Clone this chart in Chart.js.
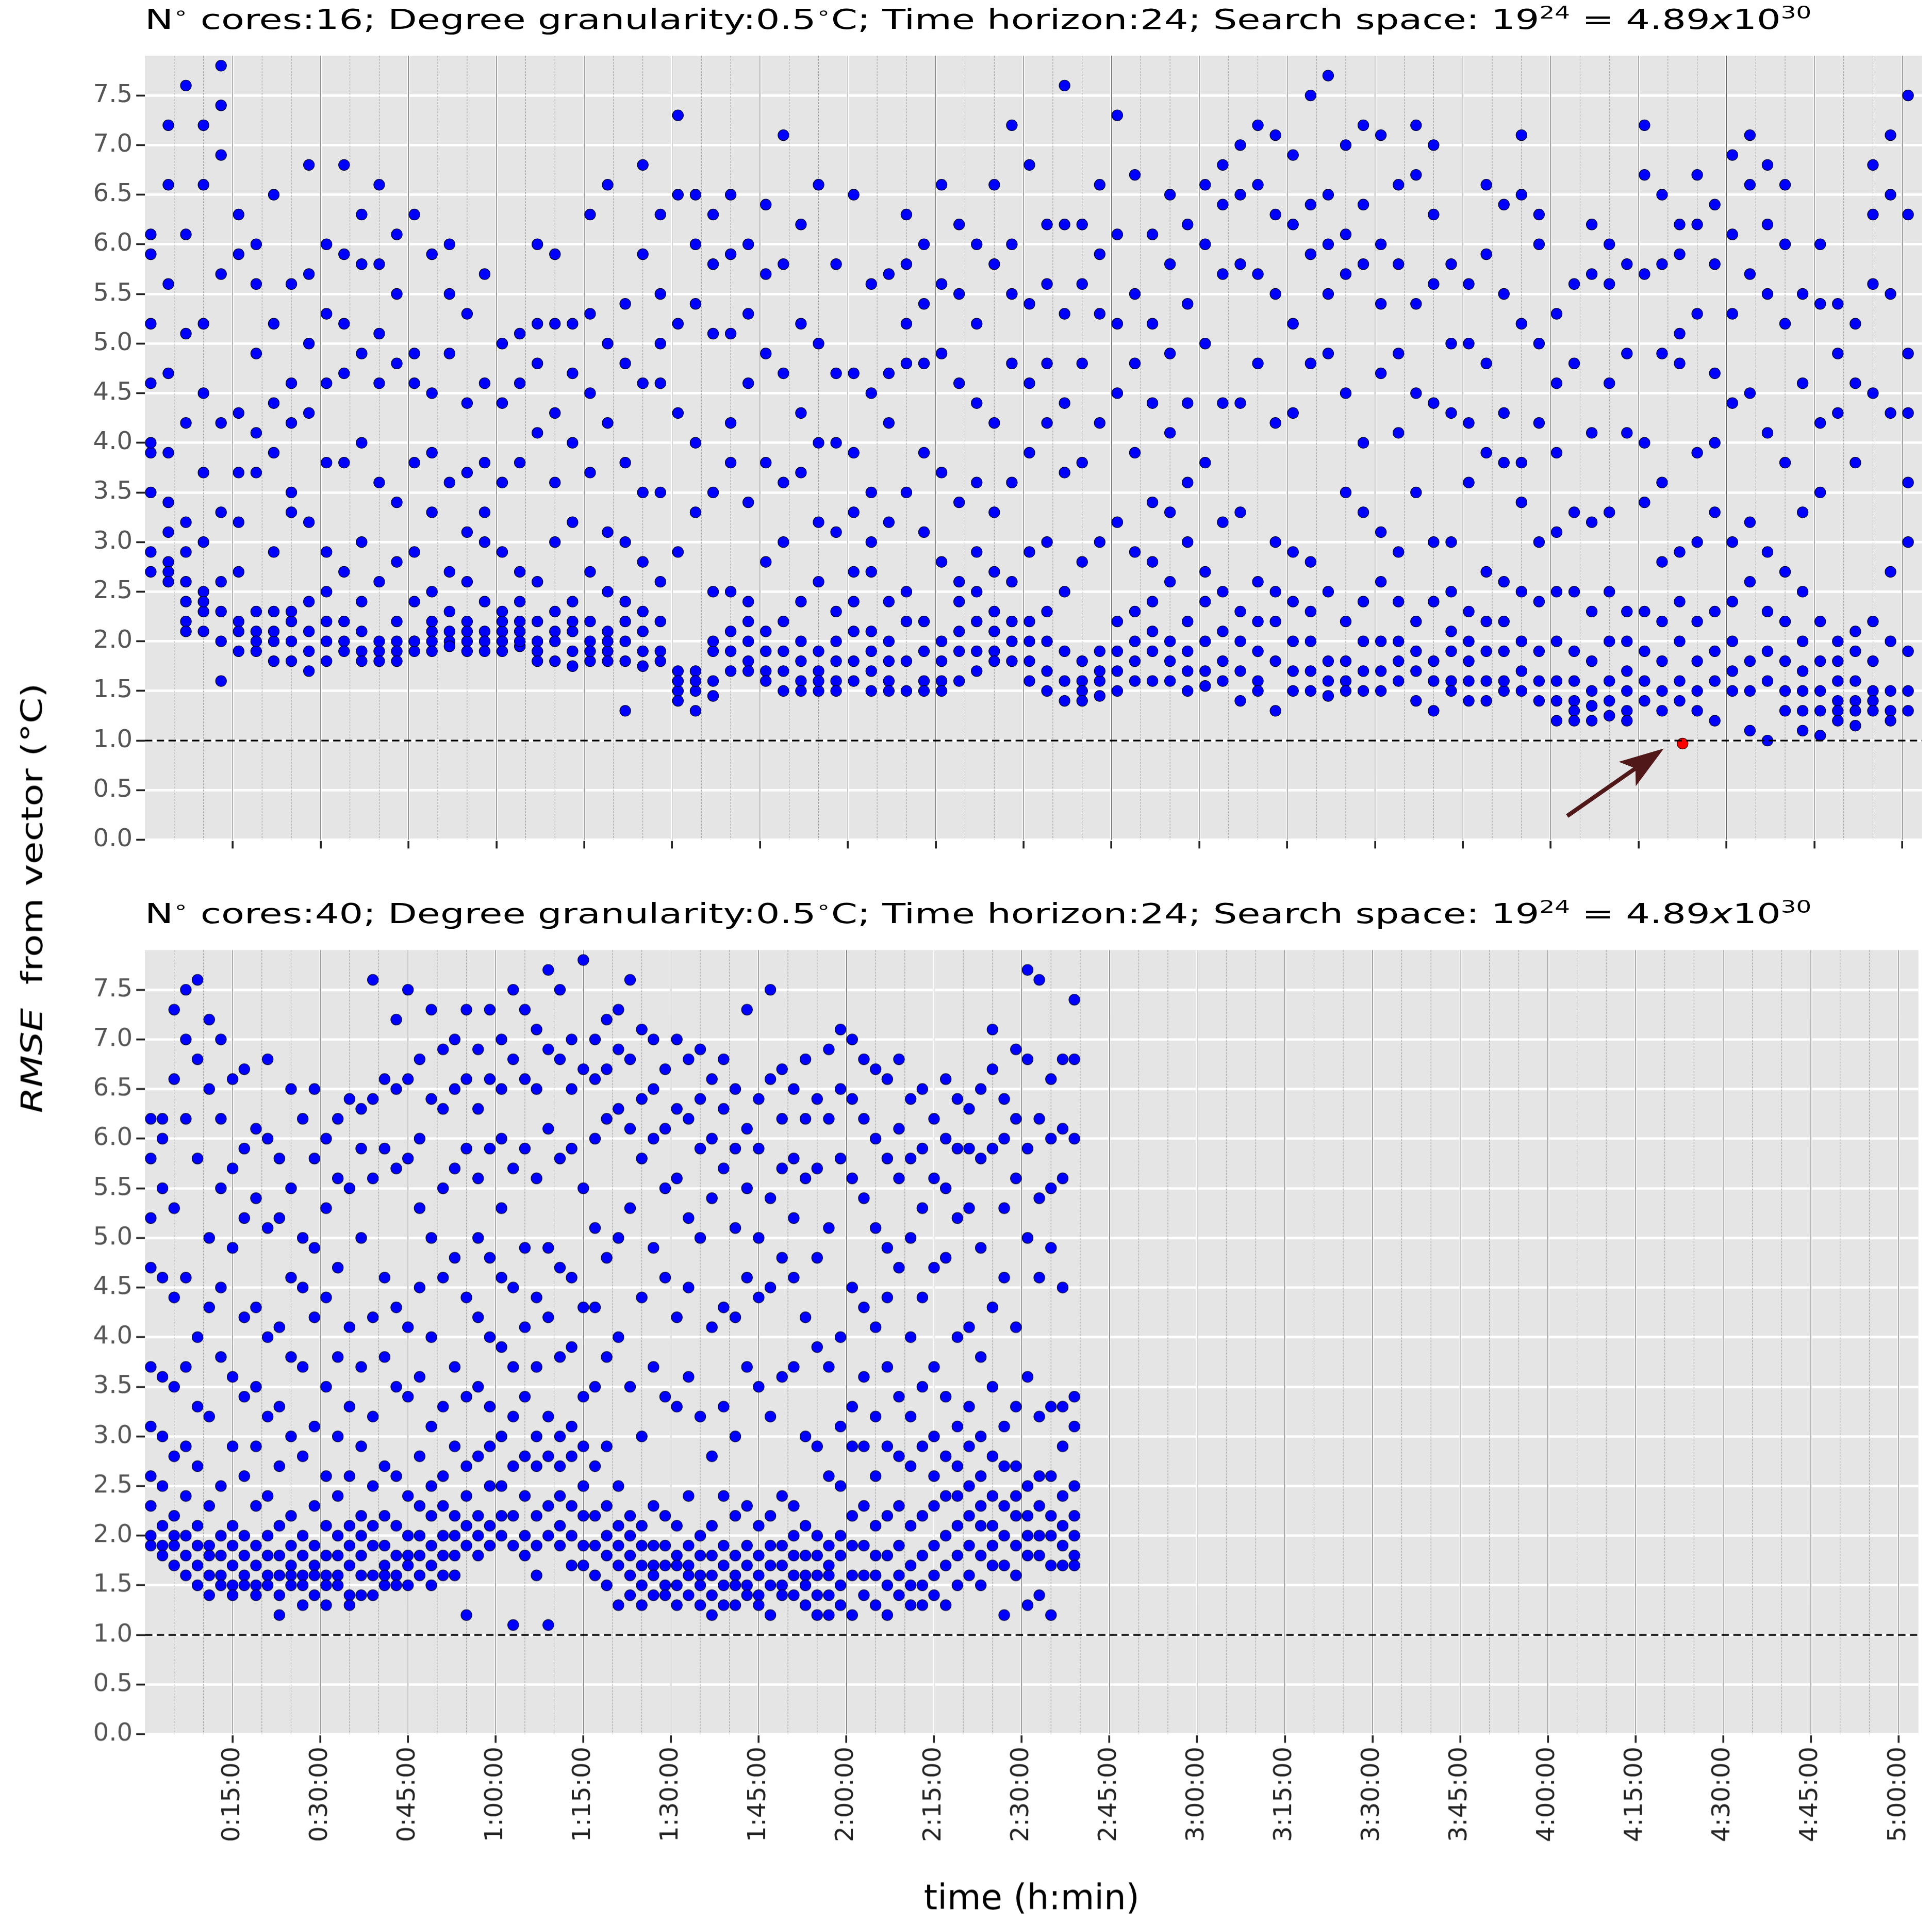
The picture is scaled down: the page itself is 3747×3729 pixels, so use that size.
<!DOCTYPE html>
<html>
<head>
<meta charset="utf-8">
<script src="https://cdn.jsdelivr.net/npm/chart.js@4"></script>
<style>
body{margin:0;background:#fff;}
#wrap{position:absolute;left:0;top:0;width:1560px;height:1553px;transform:scale(2.402);transform-origin:0 0;font-family:"DejaVu Sans",sans-serif;}
canvas{position:absolute;left:0;}
.ttl{position:absolute;left:117px;font-size:22px;color:#000;white-space:nowrap;transform:scaleX(1.39);transform-origin:0 0;}
.ttl sup{font-size:14px;}
#ylab{position:absolute;left:26px;top:725px;font-size:24px;transform:translate(-50%,-50%) rotate(-90deg) scaleX(1.25);white-space:nowrap;}
</style>
</head>
<body>
<div id="wrap">
  <div class="ttl" style="top:2px">N<sup>∘</sup> cores:16; Degree granularity:0.5<sup>∘</sup>C; Time horizon:24; Search space: 19<sup>24</sup> = 4.89<i>x</i>10<sup>30</sup></div>
  <canvas id="top" width="1560" height="700" style="top:0"></canvas>
  <div class="ttl" style="top:724px">N<sup>∘</sup> cores:40; Degree granularity:0.5<sup>∘</sup>C; Time horizon:24; Search space: 19<sup>24</sup> = 4.89<i>x</i>10<sup>30</sup></div>
  <canvas id="bottom" width="1560" height="831" style="top:722px"></canvas>
  <div id="ylab"><i>RMSE</i>&nbsp; from vector (°C)</div>
</div>
<script>
const tickMinutes = [15,30,45,60,75,90,105,120,135,150,165,180,195,210,225,240,255,270,285,300];
const tickLabels = ['0:15:00','0:30:00','0:45:00','1:00:00','1:15:00','1:30:00','1:45:00','2:00:00','2:15:00','2:30:00','2:45:00','3:00:00','3:15:00','3:30:00','3:45:00','4:00:00','4:15:00','4:30:00','4:45:00','5:00:00'];
const yTicks = [0,0.5,1,1.5,2,2.5,3,3.5,4,4.5,5,5.5,6,6.5,7,7.5];
const target = 1.0;

const topTimes = [1,4,7,10,13,16,19,22,25,28,31,34,37,40,43,46,49,52,55,58,61,64,67,70,73,76,79,82,85,88,91,94,97,100,103,106,109,112,115,118,121,124,127,130,133,136,139,142,145,148,151,154,157,160,163,166,169,172,175,178,181,184,187,190,193,196,199,202,205,208,211,214,217,220,223,226,229,232,235,238,241,244,247,250,253,256,259,262,265,268,271,274,277,280,283,286,289,292,295,298,301];
const topValues = [
[5.9,5.2,4.6,3.9,3.5,2.9,2.7,6.1,4.0],[6.6,7.2,5.6,4.7,3.9,3.4,2.8,2.7,2.6,3.1],[6.1,7.6,5.1,4.2,3.2,2.6,2.4,2.2,2.1,2.9],[7.2,6.6,5.2,3.7,2.5,2.3,2.1,2.4,3.0,4.5],
[7.8,6.9,7.4,5.7,4.2,2.6,2.3,1.6,2.0,3.3],[6.3,5.9,3.7,3.2,2.7,2.2,2.1,1.9,4.3],[5.6,4.9,4.1,2.3,2.1,1.9,2.0,3.7,6.0],[6.5,5.2,4.4,3.9,2.3,2.0,1.8,2.1,2.9],
[5.6,4.6,3.3,2.2,2.0,1.8,2.3,3.5,4.2],[6.8,5.7,5.0,4.3,2.4,2.1,1.9,1.7,3.2],[6.0,5.3,4.6,3.8,2.9,2.2,2.0,1.8,2.5],[6.8,5.9,5.2,4.7,3.8,2.2,2.0,1.9,2.7],
[6.3,5.8,4.9,4.0,3.0,2.1,1.9,1.8,2.4],[6.6,5.8,5.1,4.6,3.6,2.6,2.0,1.9,1.8],[6.1,5.5,4.8,3.4,2.8,2.2,2.0,1.9,1.8],[6.3,4.9,4.6,3.8,2.9,2.4,2.0,1.9,2.0],
[5.9,4.5,3.9,3.3,2.5,2.1,2.0,1.9,2.2],[6.0,5.5,4.9,3.6,2.7,2.1,2.0,1.95,2.3],[5.3,4.4,3.7,3.1,2.2,2.0,1.9,2.1,2.6],[5.7,4.6,3.8,3.3,2.4,2.1,2.0,1.9,3.0],
[5.0,4.4,3.6,2.9,2.3,2.1,2.0,1.9,2.2],[5.1,4.6,3.8,2.7,2.2,2.1,1.95,2.0,2.4],[6.0,5.2,4.8,4.1,2.6,2.2,2.0,1.9,1.8],[5.9,5.2,4.3,3.6,2.3,2.1,2.0,1.8,3.0],
[5.2,4.7,4.0,3.2,2.4,2.1,1.9,1.75,2.2],[6.3,5.3,4.5,3.7,2.7,2.2,2.0,1.8,1.9],[6.6,5.0,4.2,3.1,2.5,2.1,1.9,1.8,2.0],[5.4,4.8,3.8,3.0,2.2,2.0,1.8,1.3,2.4],
[6.8,5.9,4.6,3.5,2.3,2.1,1.9,1.75,2.8],[6.3,5.5,5.0,4.6,3.5,2.6,2.2,1.9,1.8],[7.3,6.5,5.2,4.3,2.9,1.7,1.5,1.4,1.6],[6.5,6.0,5.4,4.0,3.3,1.7,1.5,1.3,1.6],
[6.3,5.8,5.1,3.5,2.5,1.9,1.6,1.45,2.0],[6.5,5.9,5.1,4.2,3.8,2.5,2.1,1.9,1.7],[6.0,5.3,4.6,3.4,2.4,2.0,1.8,1.7,2.2],[6.4,5.7,4.9,3.8,2.8,2.1,1.9,1.7,1.6],
[7.1,5.8,4.7,3.6,3.0,2.2,1.9,1.7,1.5],[6.2,5.2,4.3,3.7,2.4,2.0,1.8,1.6,1.5],[6.6,5.0,4.0,3.2,2.6,1.9,1.7,1.5,1.6],[5.8,4.7,4.0,3.1,2.3,2.0,1.8,1.6,1.5],
[6.5,4.7,3.9,3.3,2.4,2.1,1.8,1.6,2.7],[5.6,4.5,3.5,3.0,2.7,2.1,1.9,1.7,1.5],[5.7,4.7,4.2,3.2,2.4,2.0,1.8,1.6,1.5],[6.3,5.8,5.2,4.8,3.5,2.5,2.2,1.8,1.5],
[6.0,5.4,4.8,3.9,3.1,2.2,1.9,1.6,1.5],[6.6,5.6,4.9,3.7,2.8,2.0,1.8,1.6,1.5],[6.2,5.5,4.6,3.4,2.6,2.4,2.1,1.9,1.6],[6.0,5.2,4.4,3.6,2.9,2.5,2.2,1.9,1.7],
[6.6,5.8,4.2,3.3,2.7,2.3,2.1,1.9,1.8],[7.2,6.0,5.5,4.8,3.6,2.6,2.2,2.0,1.8],[6.8,5.4,4.6,3.9,2.9,2.2,2.0,1.8,1.6],[6.2,5.6,4.8,4.2,3.0,2.3,2.0,1.7,1.5],
[7.6,6.2,5.3,4.4,3.7,2.5,1.9,1.6,1.4],[6.2,5.6,4.8,3.8,2.8,1.8,1.6,1.5,1.4],[6.6,5.9,5.3,4.2,3.0,1.9,1.6,1.45,1.7],[7.3,6.1,5.2,4.5,3.2,2.2,1.9,1.7,1.5],
[6.7,5.5,4.8,3.9,2.9,2.3,2.0,1.8,1.6],[6.1,5.2,4.4,3.4,2.8,2.4,2.1,1.9,1.6],[6.5,5.8,4.9,4.1,3.3,2.6,2.0,1.8,1.6],[6.2,5.4,4.4,3.6,3.0,2.2,1.9,1.7,1.5],
[6.6,6.0,5.0,3.8,2.7,2.4,2.0,1.7,1.55],[6.8,6.4,5.7,4.4,3.2,2.5,2.1,1.8,1.6],[7.0,6.5,5.8,4.4,3.3,2.3,2.0,1.7,1.4],[7.2,6.6,5.7,4.8,2.6,2.2,1.9,1.6,1.5],
[7.1,6.3,5.5,4.2,3.0,2.5,2.2,1.8,1.3],[6.9,6.2,5.2,4.3,2.9,2.4,2.0,1.7,1.5],[7.5,6.4,5.9,4.8,2.8,2.3,2.0,1.7,1.5],[7.7,6.5,6.0,5.5,4.9,2.5,1.8,1.6,1.45],
[7.0,6.1,5.7,4.5,3.5,2.2,1.8,1.6,1.5],[7.2,6.4,5.8,4.0,3.3,2.4,2.0,1.7,1.5],[7.1,6.0,5.4,4.7,3.1,2.6,2.0,1.7,1.5],[6.6,5.8,4.9,4.1,2.9,2.4,2.0,1.8,1.6],
[7.2,6.7,5.4,4.5,3.5,2.2,1.9,1.7,1.4],[7.0,6.3,5.6,4.4,3.0,2.4,1.8,1.6,1.3],[5.8,5.0,4.3,3.0,2.5,2.1,1.9,1.6,1.5],[5.6,5.0,4.2,3.6,2.3,2.0,1.8,1.6,1.4],
[6.6,5.9,4.8,3.9,2.7,2.2,1.9,1.6,1.4],[6.4,5.5,4.3,3.8,2.6,2.2,1.9,1.5,1.6],[7.1,6.5,5.2,3.8,3.4,2.5,2.0,1.7,1.5],[6.3,6.0,5.0,4.2,3.0,2.4,1.9,1.6,1.4],
[5.3,4.6,3.9,3.1,2.5,2.0,1.6,1.4,1.2],[5.6,4.8,3.3,2.5,1.9,1.6,1.4,1.3,1.2],[6.2,5.7,4.1,3.2,2.3,1.8,1.5,1.35,1.2],[6.0,5.6,4.6,3.3,2.5,2.0,1.6,1.4,1.25],
[5.8,4.9,4.1,2.3,2.0,1.7,1.5,1.3,1.2],[7.2,6.7,5.7,4.0,3.4,2.3,1.9,1.6,1.4],[6.5,5.8,4.9,3.6,2.8,2.2,1.8,1.5,1.3],[6.2,5.9,5.1,4.8,2.9,2.4,2.0,1.6,1.4],
[6.7,6.2,5.3,3.9,3.0,2.2,1.8,1.5,1.3],[6.4,5.8,4.7,4.0,3.3,2.3,1.9,1.6,1.2],[6.9,6.1,5.3,4.4,3.0,2.4,2.0,1.7,1.5],[7.1,6.6,5.7,4.5,3.2,2.6,1.8,1.5,1.1],
[6.8,6.2,5.5,4.1,2.9,2.3,1.9,1.6,1.0],[6.6,6.0,5.2,3.8,2.7,2.2,1.8,1.5,1.3],[5.5,4.6,3.3,2.5,2.0,1.7,1.5,1.3,1.1],[6.0,5.4,4.2,3.5,2.2,1.8,1.5,1.3,1.05],
[5.4,4.9,4.3,2.0,1.8,1.6,1.4,1.3,1.2],[5.2,4.6,3.8,2.1,1.9,1.6,1.4,1.3,1.15],[6.8,6.3,5.6,4.5,2.2,1.8,1.5,1.4,1.3],[7.1,6.5,5.5,4.3,2.7,2.0,1.5,1.3,1.2],
[7.5,6.3,4.9,4.3,3.6,3.0,1.9,1.5,1.3]
];
const bestTime = 262.5;
const bestValue = 0.97;

const bottomTimes = [1,3,5,7,9,11,13,15,17,19,21,23,25,27,29,31,33,35,37,39,41,43,45,47,49,51,53,55,57,59,61,63,65,67,69,71,73,75,77,79,81,83,85,87,89,91,93,95,97,99,101,103,105,107,109,111,113,115,117,119,121,123,125,127,129,131,133,135,137,139,141,143,145,147,149,151,153,155,157,159];
const bottomValues = [
[6.2,5.8,5.2,4.7,3.7,3.1,2.6,2.3,2.0,1.9],[6.0,5.5,4.6,3.6,3.0,2.5,2.1,1.9,1.8,6.2],[7.3,6.6,5.3,4.4,3.5,2.8,2.2,2.0,1.9,1.7],[7.5,7.0,6.2,4.6,3.7,2.9,2.4,2.0,1.8,1.6],
[7.6,6.8,5.8,4.0,3.3,2.7,2.1,1.9,1.7,1.5],[7.2,6.5,5.0,4.3,3.2,2.3,1.9,1.8,1.6,1.4],[7.0,6.2,5.5,4.5,3.8,2.5,2.0,1.8,1.6,1.5],[6.6,5.7,4.9,3.6,2.9,2.1,1.9,1.7,1.5,1.4],
[6.7,5.9,5.2,4.2,3.4,2.6,2.0,1.8,1.6,1.5],[6.1,5.4,4.3,3.5,2.9,2.3,1.9,1.7,1.5,1.4],[6.8,6.0,5.1,4.0,3.2,2.4,2.0,1.8,1.6,1.5],[5.8,5.2,4.1,3.3,2.7,2.1,1.8,1.6,1.4,1.2],
[6.5,5.5,4.6,3.8,3.0,2.2,1.9,1.7,1.6,1.5],[6.2,5.0,4.5,3.7,2.8,2.0,1.8,1.6,1.5,1.3],[6.5,5.8,4.9,4.2,3.1,2.3,1.9,1.7,1.6,1.4],[6.0,5.3,4.4,3.5,2.6,2.1,1.8,1.6,1.5,1.3],
[6.2,5.6,4.7,3.8,3.0,2.4,2.0,1.8,1.6,1.5],[6.4,5.5,4.1,3.3,2.6,2.1,1.9,1.7,1.4,1.3],[6.3,5.9,5.0,3.7,2.9,2.2,2.0,1.8,1.6,1.4],[7.6,6.4,5.6,4.2,3.2,2.5,2.1,1.9,1.6,1.4],
[6.6,5.9,4.6,3.8,2.7,2.2,1.9,1.7,1.5,1.6],[7.2,6.5,5.7,4.3,3.5,2.6,2.1,1.8,1.6,1.5],[7.5,6.6,5.8,4.1,3.4,2.4,2.0,1.8,1.7,1.5],[6.8,6.0,5.3,4.5,3.6,2.8,2.3,2.0,1.8,1.6],
[7.3,6.4,5.0,4.0,3.1,2.5,2.2,1.9,1.7,1.5],[6.9,6.3,5.5,4.6,3.3,2.6,2.3,2.0,1.8,1.6],[7.0,6.5,5.7,4.8,3.7,2.9,2.2,2.0,1.8,1.6],[7.3,6.6,5.9,4.4,3.4,2.7,2.4,2.1,1.9,1.2],
[6.9,6.3,5.6,5.0,4.2,3.5,2.8,2.2,2.0,1.8],[7.3,6.6,5.9,4.8,4.0,3.3,2.9,2.5,2.1,1.9],[7.0,6.5,6.0,5.3,4.6,3.9,3.0,2.5,2.2,2.0],[7.5,6.8,5.7,4.5,3.7,3.2,2.7,2.2,1.9,1.1],
[7.3,6.6,5.9,4.9,4.1,3.4,2.8,2.4,2.0,1.8],[7.1,6.5,5.6,4.4,3.7,3.0,2.7,2.2,1.9,1.6],[7.7,6.9,6.1,4.9,4.2,3.2,2.8,2.3,2.0,1.1],[7.5,6.8,5.8,4.7,3.8,3.0,2.7,2.4,2.1,1.9],
[7.0,6.5,5.9,4.6,3.9,3.1,2.8,2.3,2.0,1.7],[7.8,6.7,5.5,4.3,3.4,2.9,2.5,2.2,1.9,1.7],[7.0,6.6,6.0,5.1,4.3,3.5,2.7,2.2,1.9,1.6],[7.2,6.7,6.2,4.8,3.8,2.9,2.3,2.0,1.8,1.5],
[7.3,6.9,6.3,5.0,4.0,2.5,2.1,1.9,1.7,1.3],[7.6,6.8,6.1,5.3,3.5,2.2,2.0,1.8,1.6,1.4],[7.1,6.4,5.8,4.4,3.0,2.1,1.9,1.7,1.5,1.3],[7.0,6.5,6.0,4.9,3.7,2.3,1.9,1.7,1.6,1.4],
[6.7,6.1,5.5,4.6,3.4,2.2,1.9,1.7,1.5,1.4],[7.0,6.3,5.6,4.2,3.3,2.1,1.8,1.7,1.5,1.3],[6.8,6.2,5.2,4.5,3.6,2.4,1.9,1.7,1.6,1.4],[6.9,6.4,5.9,5.0,3.2,2.0,1.8,1.6,1.5,1.3],
[6.6,6.0,5.4,4.1,2.8,2.1,1.8,1.6,1.4,1.2],[6.8,6.3,5.7,4.3,3.3,2.4,1.9,1.7,1.5,1.3],[6.5,5.9,5.1,4.2,3.0,2.2,1.8,1.6,1.5,1.3],[7.3,6.1,5.5,4.6,3.7,2.3,1.9,1.7,1.5,1.4],
[6.4,5.9,5.0,4.4,3.5,2.1,1.8,1.6,1.4,1.3],[7.5,6.6,5.4,4.5,3.2,2.2,1.9,1.7,1.5,1.2],[6.7,6.2,5.7,4.8,3.6,2.4,1.9,1.7,1.5,1.4],[6.5,5.8,5.2,4.6,3.7,2.3,2.0,1.8,1.6,1.4],
[6.8,6.2,5.6,4.2,3.0,2.1,1.8,1.6,1.5,1.3],[6.4,5.7,4.8,3.9,2.9,2.0,1.8,1.6,1.4,1.2],[6.9,6.2,5.1,3.7,2.6,1.9,1.7,1.6,1.4,1.2],[7.1,6.5,5.8,4.0,3.1,2.5,2.0,1.8,1.5,1.3],
[7.0,6.4,5.6,4.5,3.3,2.9,2.2,1.9,1.6,1.2],[6.8,6.2,5.4,4.3,3.6,2.9,2.3,1.9,1.6,1.4],[6.7,6.0,5.1,4.1,3.2,2.6,2.1,1.8,1.6,1.3],[6.6,5.8,4.9,4.4,3.7,2.9,2.2,1.8,1.5,1.2],
[6.8,6.1,5.6,4.7,3.4,2.8,2.3,1.9,1.6,1.4],[6.4,5.8,5.0,4.0,3.2,2.7,2.1,1.7,1.5,1.3],[6.5,5.9,5.3,4.4,3.5,2.9,2.2,1.8,1.5,1.3],[6.2,5.6,4.7,3.7,3.0,2.6,2.3,1.9,1.6,1.4],
[6.6,6.0,5.5,4.8,3.4,2.8,2.4,2.0,1.7,1.3],[6.4,5.9,5.2,4.0,3.1,2.7,2.4,2.1,1.8,1.5],[6.3,5.9,5.3,4.1,3.3,2.9,2.5,2.2,1.9,1.6],[6.5,5.8,4.9,3.8,3.0,2.6,2.3,2.1,1.8,1.5],
[7.1,6.7,5.9,4.3,3.5,2.8,2.4,2.1,1.9,1.7],[6.4,6.0,5.3,4.6,3.1,2.7,2.3,2.0,1.7,1.2],[6.9,6.2,5.6,4.1,3.3,2.7,2.4,2.2,1.9,1.6],[7.7,6.8,5.9,5.0,3.6,2.5,2.2,2.0,1.8,1.3],
[7.6,6.2,5.4,4.6,3.2,2.6,2.3,2.0,1.8,1.4],[6.6,6.0,5.5,4.9,3.3,2.6,2.2,2.0,1.7,1.2],[6.8,6.1,5.6,4.5,3.3,2.9,2.4,2.1,1.9,1.7],[7.4,6.8,6.0,3.4,3.1,2.5,2.2,2.0,1.8,1.7]
];

function toPoints(times, values){
    let pts = [];
    times.forEach((t,i)=>{ values[i].forEach(v=>pts.push({x:t,y:v})); });
    return pts;
}

function fmtTime(m){
    const i = tickMinutes.indexOf(m);
    return i>=0 ? tickLabels[i] : '';
}

const dpr = 2.402;

const bgPlugin = {
    id:'bg',
    beforeDraw(chart){
        const a = chart.chartArea, ctx = chart.ctx;
        ctx.save();
        ctx.fillStyle = '#e5e5e5';
        ctx.fillRect(a.left, a.top, a.right-a.left, a.bottom-a.top);
        ctx.restore();
    },
    beforeDatasetsDraw(chart){
        const a = chart.chartArea, ctx = chart.ctx, xs = chart.scales.x;
        ctx.save();
        for(let m=5; m<xs.max; m+=5){
            const px = xs.getPixelForValue(m);
            const major = m%15===0;
            ctx.strokeStyle = major ? '#333' : '#888';
            ctx.lineWidth = major ? 0.35 : 0.35;
            ctx.setLineDash(major ? [] : [1.5,1]);
            ctx.beginPath(); ctx.moveTo(px,a.top); ctx.lineTo(px,a.bottom); ctx.stroke();
        }
        ctx.restore();
    }
};

const arrowPlugin = {
    id:'arrow',
    afterDatasetsDraw(chart, args, opts){
        if(!opts.show) return;
        const xs = chart.scales.x, ys = chart.scales.y, ctx = chart.ctx;
        const x0 = xs.getPixelForValue(242.8), y0 = ys.getPixelForValue(0.24);
        const x1 = xs.getPixelForValue(259.3), y1 = ys.getPixelForValue(0.92);
        const ang = Math.atan2(y1-y0, x1-x0), c = Math.cos(ang), s = Math.sin(ang);
        ctx.save();
        ctx.strokeStyle = '#501818'; ctx.fillStyle = '#501818'; ctx.lineWidth = 3.4;
        ctx.beginPath(); ctx.moveTo(x0,y0); ctx.lineTo(x1-26*c, y1-26*s); ctx.stroke();
        ctx.beginPath();
        ctx.moveTo(x1,y1);
        ctx.lineTo(x1-36*c+12*s, y1-36*s-12*c);
        ctx.lineTo(x1-28*c, y1-28*s);
        ctx.lineTo(x1-36*c-12*s, y1-36*s+12*c);
        ctx.closePath(); ctx.fill();
        ctx.restore();
    }
};

function makeChart(id, points, best, showLabels, xHeight){
    const datasets = [
        {type:'line', data:[{x:0,y:target},{x:310,y:target}], borderColor:'#000', borderWidth:1.3, borderDash:[6,3.5], pointRadius:0, order:0},
        {data:points, backgroundColor:'#0000ff', borderColor:'#000033', borderWidth:0.5, pointRadius:4.4, order:2}
    ];
    if(best) datasets.push({data:[best], backgroundColor:'#ff0000', borderColor:'#330000', borderWidth:0.5, pointRadius:4.4, order:1});
    return new Chart(document.getElementById(id), {
        type:'scatter',
        data:{datasets:datasets},
        plugins:[bgPlugin, arrowPlugin],
        options:{
            responsive:false,
            animation:false,
            devicePixelRatio:dpr,
            layout:{padding:{top:45, right:8, left:0, bottom:0}},
            plugins:{legend:{display:false}, tooltip:{enabled:false}, arrow:{show:!!best}},
            scales:{
                x:{
                    type:'linear', min:0, max:303.4,
                    afterBuildTicks(s){ s.ticks = tickMinutes.map(v=>({value:v})); },
                    afterFit(s){ s.height = xHeight; },
                    grid:{color:'#ffffff', lineWidth:1.8, tickColor:'#222', tickLength:7, tickWidth:1.5},
                    border:{display:false},
                    ticks:{display:showLabels, autoSkip:false, minRotation:90, maxRotation:90, color:'#222',
                        font:{family:'DejaVu Sans', size:20}, callback:v=>fmtTime(v)},
                    title:{display:showLabels, text:'time (h:min)', color:'#000', font:{family:'DejaVu Sans', size:28}, padding:{top:0, bottom:2}}
                },
                y:{
                    min:0, max:7.9,
                    afterBuildTicks(s){ s.ticks = yTicks.map(v=>({value:v})); },
                    afterFit(s){ s.width = 117; },
                    grid:{color:'#ffffff', lineWidth:2, tickColor:'#222', tickLength:7, tickWidth:1.5},
                    border:{display:false},
                    ticks:{color:'#555', font:{family:'DejaVu Sans', size:20}, callback:v=>v.toFixed(1)}
                }
            }
        }
    });
}

makeChart('top', toPoints(topTimes, topValues), {x:bestTime, y:bestValue}, false, 22);
makeChart('bottom', toPoints(bottomTimes, bottomValues), null, true, 153);
</script>
</body>
</html>
